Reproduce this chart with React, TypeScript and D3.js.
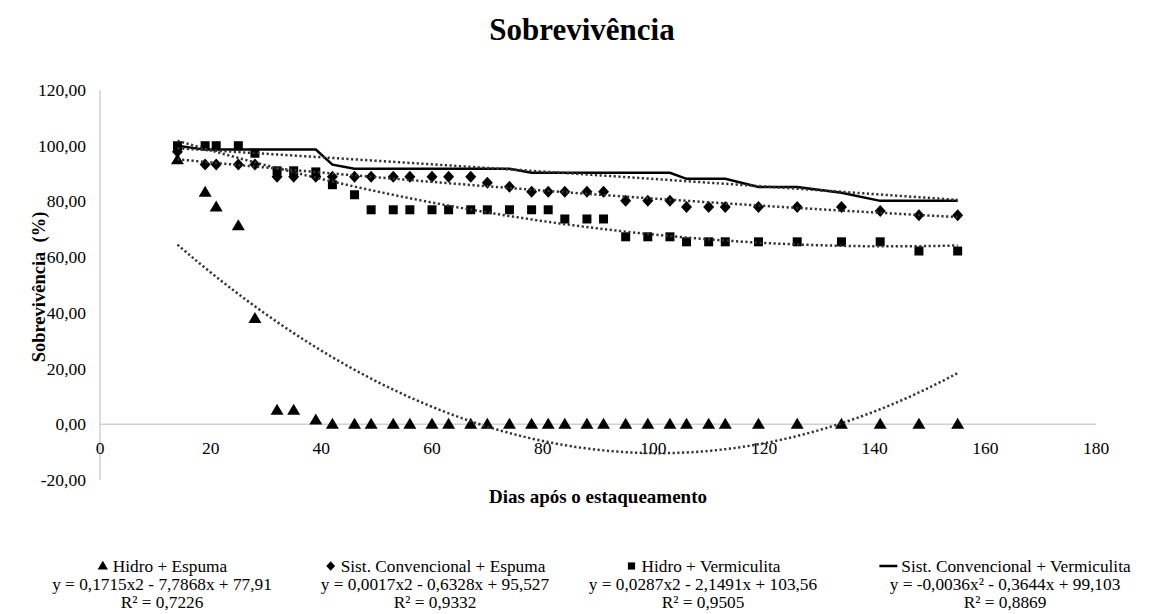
import { useEffect, useRef } from 'react';
import * as d3 from 'd3';

// days after staking (x values shared by all series)
const days = [14, 19, 21, 25, 28, 32, 35, 39, 42, 46, 49, 53, 56, 60, 63, 67, 70, 74, 78, 81, 84, 88, 91, 95, 99, 103, 106, 110, 113, 119, 126, 134, 141, 148, 155];

const hidroEspuma = [95, 83.3, 78, 71.3, 38, 5, 5, 1.5, 0, 0, 0, 0, 0, 0, 0, 0, 0, 0, 0, 0, 0, 0, 0, 0, 0, 0, 0, 0, 0, 0, 0, 0, 0, 0, 0];
const sistEspuma = [97.8, 93.3, 93.3, 93.3, 93.3, 88.9, 88.9, 88.9, 88.9, 88.9, 88.9, 88.9, 88.9, 88.9, 88.9, 88.9, 86.7, 85.3, 83.5, 83.5, 83.5, 83.5, 83.5, 80.2, 80.2, 80.2, 78, 78, 78, 78, 78, 78, 76.6, 75, 75];
const hidroVerm = [100, 100, 100, 100, 97.3, 91, 91, 90.6, 86, 82.4, 77, 77, 77, 77, 77, 77, 77, 77, 77, 77, 73.7, 73.7, 73.7, 67.3, 67.3, 67.3, 65.5, 65.5, 65.5, 65.5, 65.5, 65.5, 65.5, 62.2, 62.2];
const sistVerm = [100, 98.6, 98.6, 98.6, 98.6, 98.6, 98.6, 98.6, 93.2, 91.7, 91.7, 91.7, 91.7, 91.7, 91.7, 91.7, 91.7, 91.7, 90.3, 90.3, 90.3, 90.3, 90.3, 90.3, 90.3, 90.3, 88.1, 88.1, 88.1, 85.2, 85.2, 83.1, 80.2, 80.2, 80.2];

const xTicks = [0, 20, 40, 60, 80, 100, 120, 140, 160, 180];
const yTicks = [-20, 0, 20, 40, 60, 80, 100, 120];

const seriesNames = ['Hidro + Espuma', 'Sist. Convencional + Espuma', 'Hidro + Vermiculita', 'Sist. Convencional + Vermiculita'];
const equations = ['y = 0,1715x2 - 7,7868x + 77,91', 'y = 0,0017x2 - 0,6328x + 95,527', 'y = 0,0287x2 - 2,1491x + 103,56', 'y = -0,0036x² - 0,3644x + 99,103'];
const r2Labels = ['R² = 0,7226', 'R² = 0,9332', 'R² = 0,9505', 'R² = 0,8869'];

const FONT = '"Liberation Serif", "Times New Roman", serif';

// least squares 2nd order polynomial (what the spreadsheet trendline does)
function polyfit2(xs: number[], ys: number[]) {
  let s0 = 0, s1 = 0, s2 = 0, s3 = 0, s4 = 0, t0 = 0, t1 = 0, t2 = 0;
  xs.forEach((x, i) => {
    const y = ys[i];
    s0 += 1; s1 += x; s2 += x * x; s3 += x * x * x; s4 += x * x * x * x;
    t0 += y; t1 += x * y; t2 += x * x * y;
  });
  const m = [
    [s4, s3, s2, t2],
    [s3, s2, s1, t1],
    [s2, s1, s0, t0],
  ];
  for (let c = 0; c < 3; c++) {
    for (let r = c + 1; r < 3; r++) {
      const f = m[r][c] / m[c][c];
      for (let k = c; k < 4; k++) m[r][k] -= f * m[c][k];
    }
  }
  const coef = [0, 0, 0];
  for (let r = 2; r >= 0; r--) {
    let s = m[r][3];
    for (let k = r + 1; k < 3; k++) s -= m[r][k] * coef[k];
    coef[r] = s / m[r][r];
  }
  return coef; // a, b, c
}

function markerPath(kind: string) {
  if (kind === 'triangle') return 'M0,-6.5L6.5,4.5L-6.5,4.5Z';
  if (kind === 'diamond') return 'M0,-6L5.5,0L0,6L-5.5,0Z';
  return 'M-4.5,-4.5L4.5,-4.5L4.5,4.5L-4.5,4.5Z';
}

export default function App() {
  const svgRef = useRef<SVGSVGElement>(null);

  useEffect(() => {
    if (!svgRef.current) return;
    const width = 1154;
    const height = 614;

    const svg = d3.select(svgRef.current);
    svg.selectAll('*').remove();
    svg.attr('width', width).attr('height', height);

    const x = d3.scaleLinear().domain([0, 180]).range([100, 1096]);
    const y = d3.scaleLinear().domain([-20, 120]).range([480, 90]);

    svg.append('rect').attr('width', width).attr('height', height).attr('fill', '#fff');

    // title
    svg
      .append('text')
      .attr('x', 582)
      .attr('y', 40)
      .attr('text-anchor', 'middle')
      .style('font-family', FONT)
      .style('font-size', '31px')
      .style('font-weight', 'bold')
      .text('Sobrevivência');

    // axes lines
    svg
      .append('line')
      .attr('x1', x(0)).attr('x2', x(0))
      .attr('y1', y(120)).attr('y2', y(-20))
      .attr('stroke', '#d0d0d0').attr('stroke-width', 1.5);
    svg
      .append('line')
      .attr('x1', x(0)).attr('x2', x(180))
      .attr('y1', y(0)).attr('y2', y(0))
      .attr('stroke', '#d0d0d0').attr('stroke-width', 1.5);

    // tick labels
    svg
      .append('g')
      .selectAll('text')
      .data(yTicks)
      .join('text')
      .attr('x', 86)
      .attr('y', (d) => y(d) + 6)
      .attr('text-anchor', 'end')
      .style('font-family', FONT)
      .style('font-size', '17.5px')
      .text((d) => d3.format('.2f')(d).replace('.', ',').replace('−', '-'));

    svg
      .append('g')
      .selectAll('text')
      .data(xTicks)
      .join('text')
      .attr('x', (d) => x(d))
      .attr('y', 454)
      .attr('text-anchor', 'middle')
      .style('font-family', FONT)
      .style('font-size', '17.5px')
      .text((d) => d);

    // axis titles
    svg
      .append('text')
      .attr('x', 598)
      .attr('y', 503)
      .attr('text-anchor', 'middle')
      .style('font-family', FONT)
      .style('font-size', '19px')
      .style('font-weight', 'bold')
      .text('Dias após o estaqueamento');

    svg
      .append('text')
      .attr('transform', `translate(45,${287}) rotate(-90)`)
      .attr('text-anchor', 'middle')
      .style('font-family', FONT)
      .style('font-size', '18.5px')
      .style('font-weight', 'bold')
      .style('white-space', 'pre')
      .text('Sobrevivência  (%)');

    const series = [hidroEspuma, sistEspuma, hidroVerm, sistVerm];
    const markers = ['triangle', 'diamond', 'square', null];

    const lineGen = d3
      .line<[number, number]>()
      .x((d) => x(d[0]))
      .y((d) => y(d[1]));
    const xMin = d3.min(days) as number;
    const xMax = d3.max(days) as number;
    const samples = d3.range(xMin, xMax + 0.5, 0.5);

    // solid line series
    svg
      .append('path')
      .datum(days.map((d, i) => [d, sistVerm[i]] as [number, number]))
      .attr('d', lineGen)
      .attr('fill', 'none')
      .attr('stroke', '#000')
      .attr('stroke-width', 2.5);

    series.forEach((vals, si) => {
      const mk = markers[si];
      if (mk) {
        svg
          .append('g')
          .selectAll('path')
          .data(days.map((d, i) => [d, vals[i]] as [number, number]))
          .join('path')
          .attr('transform', (d) => `translate(${x(d[0])},${y(d[1])})`)
          .attr('d', markerPath(mk))
          .attr('fill', '#000');
      }
    });

    // trendlines
    series.forEach((vals) => {
      const [a, b, c] = polyfit2(days, vals);
      svg
        .append('path')
        .datum(samples.map((t) => [t, a * t * t + b * t + c] as [number, number]))
        .attr('d', lineGen)
        .attr('fill', 'none')
        .attr('stroke', '#333')
        .attr('stroke-width', 2.5)
        .attr('stroke-dasharray', '2.2,2.5');
    });

    // legend
    const centers = [162, 435, 703, 1005];
    centers.forEach((cx, i) => {
      const g = svg.append('g').style('font-family', FONT).style('font-size', '17.3px');
      const name = g
        .append('text')
        .attr('y', 572)
        .text(seriesNames[i]);
      const w = (name.node() as SVGTextElement).getComputedTextLength();
      const symW = i === 3 ? 18 : 12;
      const total = symW + 4 + w;
      const left = cx - total / 2;
      name.attr('x', left + symW + 4);
      if (markers[i]) {
        g.append('path')
          .attr('transform', `translate(${left + symW / 2},${566}) scale(0.8)`)
          .attr('d', markerPath(markers[i] as string))
          .attr('fill', '#000');
      } else {
        g.append('line')
          .attr('x1', left).attr('x2', left + symW)
          .attr('y1', 566).attr('y2', 566)
          .attr('stroke', '#000').attr('stroke-width', 2.5);
      }
      g.append('text').attr('x', cx).attr('y', 590).attr('text-anchor', 'middle').text(equations[i]);
      g.append('text').attr('x', cx).attr('y', 608).attr('text-anchor', 'middle').text(r2Labels[i]);
    });
  }, []);

  return (
    <div style={{ position: 'absolute', left: 0, top: 0 }}>
      <svg ref={svgRef} style={{ display: 'block' }} />
    </div>
  );
}
